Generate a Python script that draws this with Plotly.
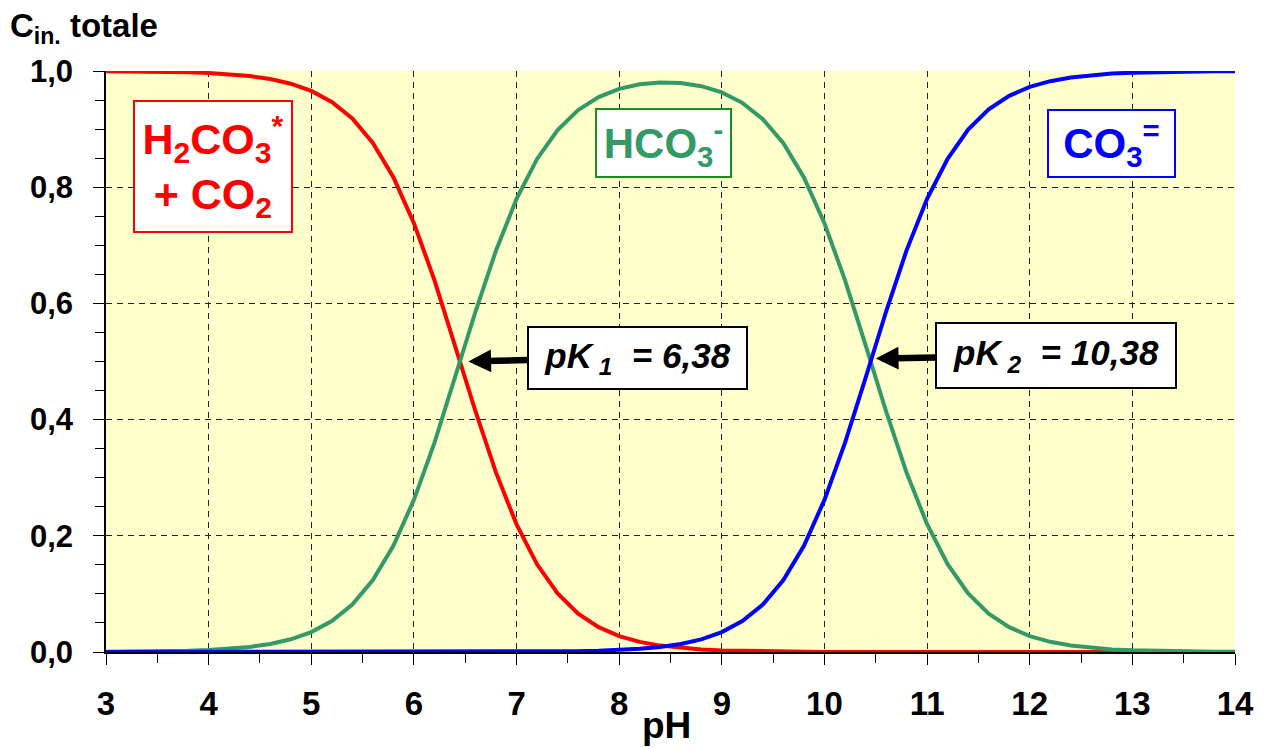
import plotly.graph_objects as go

# ---------------- data ----------------
ph = [3.0, 3.2, 3.4, 3.6, 3.8, 4.0, 4.2, 4.4, 4.6, 4.8,
      5.0, 5.2, 5.4, 5.6, 5.8, 6.0, 6.2, 6.4, 6.6, 6.8,
      7.0, 7.2, 7.4, 7.6, 7.8, 8.0, 8.2, 8.4, 8.6, 8.8,
      9.0, 9.2, 9.4, 9.6, 9.8, 10.0, 10.2, 10.4, 10.6, 10.8,
      11.0, 11.2, 11.4, 11.6, 11.8, 12.0, 12.2, 12.4, 12.6, 12.8,
      13.0, 13.2, 13.4, 13.6, 13.8, 14.0]

h2co3 = [0.9996, 0.9994, 0.9991, 0.9986, 0.9978, 0.9965, 0.9944, 0.9912, 0.9861, 0.9781,
         0.9657, 0.9468, 0.9182, 0.8762, 0.8171, 0.7381, 0.6401, 0.5287, 0.4144, 0.3087,
         0.2198, 0.1509, 0.1008, 0.0660, 0.0427, 0.0273, 0.0174, 0.0110, 0.0069, 0.0044,
         0.0027, 0.0017, 0.0010, 0.0006, 0.0004, 0.0002, 0.0001, 0.0001, 0.0000, 0.0000,
         0.0000, 0.0000, 0.0000, 0.0000, 0.0000, 0.0000, 0.0000, 0.0000, 0.0000, 0.0000,
         0.0000, 0.0000, 0.0000, 0.0000, 0.0000, 0.0000]

hco3 = [0.0004, 0.0006, 0.0009, 0.0014, 0.0022, 0.0035, 0.0056, 0.0088, 0.0139, 0.0219,
        0.0343, 0.0532, 0.0818, 0.1238, 0.1829, 0.2619, 0.3599, 0.4713, 0.5856, 0.6912,
        0.7799, 0.8486, 0.8984, 0.9327, 0.9552, 0.9692, 0.9771, 0.9803, 0.9792, 0.9739,
        0.9631, 0.9452, 0.9172, 0.8757, 0.8168, 0.7380, 0.6401, 0.5287, 0.4144, 0.3087,
        0.2199, 0.1510, 0.1009, 0.0661, 0.0428, 0.0274, 0.0175, 0.0111, 0.0070, 0.0045,
        0.0028, 0.0018, 0.0011, 0.0007, 0.0005, 0.0003]

co3 = [0.0000, 0.0000, 0.0000, 0.0000, 0.0000, 0.0000, 0.0000, 0.0000, 0.0000, 0.0000,
       0.0000, 0.0000, 0.0000, 0.0000, 0.0000, 0.0000, 0.0000, 0.0000, 0.0001, 0.0002,
       0.0003, 0.0005, 0.0008, 0.0013, 0.0021, 0.0034, 0.0055, 0.0087, 0.0138, 0.0218,
       0.0342, 0.0532, 0.0818, 0.1237, 0.1829, 0.2618, 0.3599, 0.4713, 0.5856, 0.6913,
       0.7801, 0.8490, 0.8991, 0.9339, 0.9573, 0.9726, 0.9825, 0.9889, 0.9930, 0.9955,
       0.9972, 0.9982, 0.9989, 0.9993, 0.9995, 0.9997]

x_ticks = [3, 4, 5, 6, 7, 8, 9, 10, 11, 12, 13, 14]
x_ticktext = ["3", "4", "5", "6", "7", "8", "9", "10", "11", "12", "13", "14"]
x_minor = [3.5, 4.5, 5.5, 6.5, 7.5, 8.5, 9.5, 10.5, 11.5, 12.5, 13.5]
y_ticks = [0.0, 0.2, 0.4, 0.6, 0.8, 1.0]
y_ticktext = ["0,0", "0,2", "0,4", "0,6", "0,8", "1,0"]
y_minor = [0.05, 0.1, 0.15, 0.25, 0.3, 0.35, 0.45, 0.5, 0.55, 0.65, 0.7, 0.75,
           0.85, 0.9, 0.95]

pk1_point = (6.53, 0.50)
pk2_point = (10.50, 0.505)

# ---------------- styles ----------------
FONT = "Liberation Sans, Arial, sans-serif"
RED = "#FF0000"
GREEN = "#339966"
BLUE = "#0000FF"
BG = "#FFFFCC"

fig = go.Figure()
for name, ys, col in [("H2CO3* + CO2", h2co3, RED),
                      ("HCO3-", hco3, GREEN),
                      ("CO3=", co3, BLUE)]:
    fig.add_trace(go.Scatter(x=ph, y=ys, mode="lines", name=name,
                             line=dict(color=col, width=4),
                             cliponaxis=False, showlegend=False,
                             hoverinfo="x+y"))

axis_common = dict(
    showline=True, linecolor="black", linewidth=1.5,
    showgrid=True, gridcolor="#222222", gridwidth=1, griddash="6px,5px",
    zeroline=False, ticks="outside", ticklen=11, tickwidth=1.2, tickcolor="black",
)

fig.update_xaxes(
    range=[3, 14], tickmode="array", tickvals=x_ticks, ticktext=x_ticktext,
    ticklabelstandoff=11,
    tickfont=dict(family=FONT, size=33, color="black", weight="bold"),
    minor=dict(tickmode="array", tickvals=x_minor, ticks="outside",
               ticklen=9, tickwidth=1.2, tickcolor="black", showgrid=False),
    **axis_common)
fig.update_yaxes(
    range=[0, 1], tickmode="array", tickvals=y_ticks, ticktext=y_ticktext,
    ticklabelstandoff=14,
    tickfont=dict(family=FONT, size=31, color="black", weight="bold"),
    minor=dict(tickmode="array", tickvals=y_minor, ticks="outside",
               ticklen=9, tickwidth=1.2, tickcolor="black", showgrid=False),
    **axis_common)

annotations = []

# axis titles
annotations.append(dict(
    text="C<sub>in.</sub> totale", xref="paper", yref="paper",
    x=-0.0866, y=1.074, xanchor="left", yanchor="middle", showarrow=False,
    font=dict(family=FONT, size=33, color="black", weight="bold")))
annotations.append(dict(
    text="pH", xref="paper", yref="paper",
    x=0.4965, y=-0.1655, xanchor="center", yanchor="bottom", showarrow=False,
    font=dict(family=FONT, size=37, color="black", weight="bold")))

# species boxes
annotations.append(dict(
    text="H<sub>2</sub>CO<sub>3</sub><sup>*</sup><br>+ CO<sub>2</sub>",
    x=4.04, y=0.836, xref="x", yref="y", showarrow=False,
    width=156, height=129, bgcolor="white", bordercolor=RED, borderwidth=2,
    borderpad=0, align="center", valign="middle",
    font=dict(family=FONT, size=43, color=RED, weight="bold")))
annotations.append(dict(
    text="HCO<sub>3</sub><sup>-</sup>",
    x=8.427, y=0.876, xref="x", yref="y", showarrow=False,
    width=133, height=66, bgcolor="white", bordercolor="#1E8C1E", borderwidth=2,
    borderpad=0, align="center", valign="middle",
    font=dict(family=FONT, size=42, color=GREEN, weight="bold")))
annotations.append(dict(
    text="CO<sub>3</sub><sup>=</sup>",
    x=12.80, y=0.875, xref="x", yref="y", showarrow=False,
    width=125, height=65, bgcolor="white", bordercolor=BLUE, borderwidth=2,
    borderpad=0, align="center", valign="middle",
    font=dict(family=FONT, size=42, color=BLUE, weight="bold")))

# pK boxes with arrows
annotations.append(dict(
    text="<i>pK</i><sub><i> 1</i></sub><i>&nbsp; = 6,38</i>",
    x=pk1_point[0], y=pk1_point[1], xref="x", yref="y",
    showarrow=True, ax=169, ay=-4, axref="pixel", ayref="pixel",
    arrowhead=2, arrowsize=0.7, arrowwidth=6.5, arrowcolor="black", standoff=0,
    width=217, height=60, bgcolor="white", bordercolor="black", borderwidth=2,
    borderpad=0, align="center", valign="middle",
    font=dict(family=FONT, size=35, color="black", weight="bold")))
annotations.append(dict(
    text="<i>pK</i><sub><i> 2</i></sub><i>&nbsp; = 10,38</i>",
    x=pk2_point[0], y=pk2_point[1], xref="x", yref="y",
    showarrow=True, ax=180, ay=-3, axref="pixel", ayref="pixel",
    arrowhead=2, arrowsize=0.7, arrowwidth=6.5, arrowcolor="black", standoff=0,
    width=238, height=63, bgcolor="white", bordercolor="black", borderwidth=2,
    borderpad=0, align="center", valign="middle",
    font=dict(family=FONT, size=35, color="black", weight="bold")))

fig.update_layout(
    width=1266, height=749, autosize=False,
    margin=dict(l=106, r=28, t=71, b=97),
    plot_bgcolor=BG, paper_bgcolor="white",
    annotations=annotations,
    showlegend=False,
)

fig.write_html("out.html")
